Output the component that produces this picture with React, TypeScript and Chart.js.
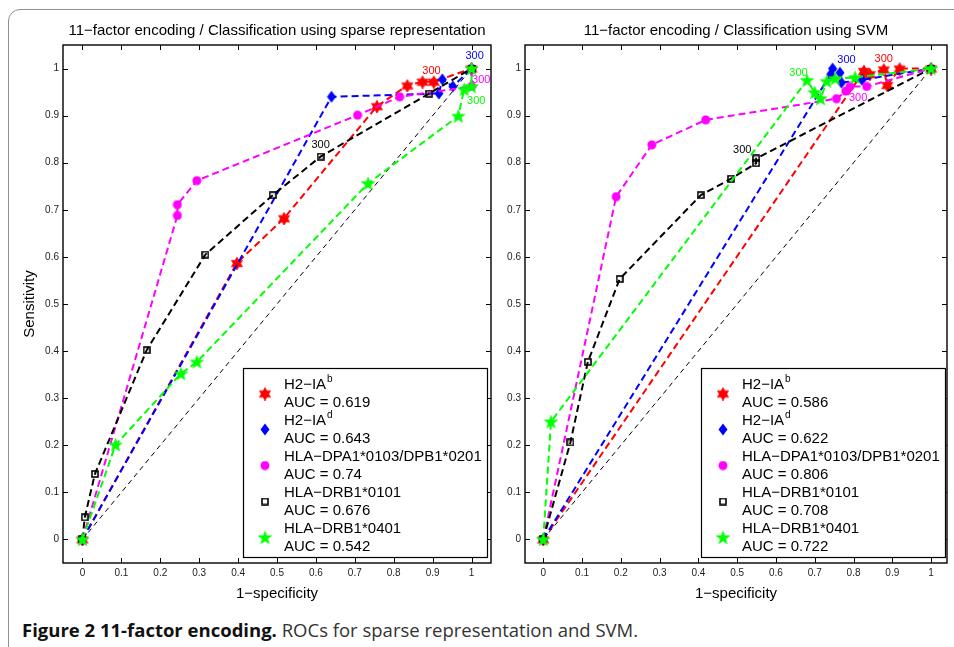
import React, { useEffect, useRef } from "react";
import { Chart, registerables } from "chart.js";
Chart.register(...registerables);

const FONT = '"Liberation Sans", Arial, Helvetica, sans-serif';

const tickValues = [0, 0.1, 0.2, 0.3, 0.4, 0.5, 0.6, 0.7, 0.8, 0.9, 1];
const tickLabels = ["0", "0.1", "0.2", "0.3", "0.4", "0.5", "0.6", "0.7", "0.8", "0.9", "1"];

const seriesNames = ["H2\u2212IA", "H2\u2212IA", "HLA\u2212DPA1*0103/DPB1*0201", "HLA\u2212DRB1*0101", "HLA\u2212DRB1*0401"];
const seriesSup = ["b", "d", "", "", ""];
const seriesColors = ["#ff0000", "#0000ff", "#ff00ff", "#000000", "#00ff00"];
const seriesMarkers = ["hexagram", "diamond", "circle", "square", "pentagram"];

const sparseAUC = ["0.619", "0.643", "0.74", "0.676", "0.542"];
const svmAUC = ["0.586", "0.622", "0.806", "0.708", "0.722"];

const diagX = [0, 1];
const diagY = [0, 1];

// Sparse representation
const spRedX = [0, 0.397, 0.518, 0.757, 0.835, 0.874, 0.903, 1];
const spRedY = [0, 0.587, 0.682, 0.92, 0.964, 0.972, 0.972, 1];
const spBlueX = [0, 0.64, 0.916, 0.925, 0.952, 1];
const spBlueY = [0, 0.94, 0.947, 0.977, 0.962, 1];
const spMagX = [0, 0.244, 0.244, 0.294, 0.707, 0.815, 1, 1];
const spMagY = [0, 0.688, 0.711, 0.762, 0.901, 0.94, 0.962, 1];
const spBlackX = [0, 0.006, 0.032, 0.165, 0.316, 0.489, 0.612, 0.891, 1];
const spBlackY = [0, 0.047, 0.139, 0.402, 0.605, 0.731, 0.813, 0.947, 1];
const spGreenX = [0, 0.085, 0.253, 0.294, 0.734, 0.966, 0.981, 1, 1];
const spGreenY = [0, 0.201, 0.352, 0.377, 0.756, 0.899, 0.956, 0.962, 1];

// SVM
const svRedX = [0, 0.827, 0.842, 0.878, 0.887, 0.919, 1];
const svRedY = [0, 0.995, 0.988, 0.998, 0.965, 1.0, 1];
const svBlueX = [0, 0.741, 0.746, 0.765, 0.769, 0.822, 1];
const svBlueY = [0, 0.988, 1.0, 0.991, 0.97, 0.976, 1];
const svMagX = [0, 0.188, 0.28, 0.419, 0.756, 0.78, 0.791, 0.834, 1];
const svMagY = [0, 0.728, 0.838, 0.891, 0.936, 0.952, 0.962, 0.962, 1];
const svBlackX = [0, 0.07, 0.115, 0.197, 0.406, 0.484, 0.549, 0.549, 1];
const svBlackY = [0, 0.206, 0.377, 0.553, 0.731, 0.766, 0.799, 0.809, 1];
const svGreenX = [0, 0.02, 0.68, 0.7, 0.715, 0.731, 0.753, 0.804, 1];
const svGreenY = [0, 0.25, 0.975, 0.949, 0.936, 0.973, 0.979, 0.981, 1];

// "300" threshold labels: series index, x, y
const spLabelSeries = [0, 1, 2, 3, 4];
const spLabelX = [0.897, 1.008, 1.025, 0.612, 1.012];
const spLabelY = [0.995, 1.027, 0.976, 0.837, 0.931];
const svLabelSeries = [0, 1, 2, 3, 4];
const svLabelX = [0.878, 0.782, 0.812, 0.513, 0.658];
const svLabelY = [1.02, 1.018, 0.938, 0.828, 0.99];
const labelText = "300";

function makeMarker(kind: string, color: string): HTMLCanvasElement {
  const c = document.createElement("canvas");
  let w = 14, h = 14;
  if (kind === "hexagram") { w = 14; h = 14; }
  if (kind === "pentagram") { w = 15; h = 15; }
  if (kind === "diamond") { w = 10; h = 13; }
  if (kind === "circle") { w = 10; h = 10; }
  if (kind === "square") { w = 8; h = 8; }
  c.width = w; c.height = h;
  const g = c.getContext("2d")!;
  const cx = w / 2, cy = h / 2;
  g.fillStyle = color; g.strokeStyle = color;
  if (kind === "hexagram" || kind === "pentagram") {
    const n = kind === "hexagram" ? 6 : 5;
    const R = kind === "hexagram" ? 6.5 : 7;
    const r = kind === "hexagram" ? 3.75 : 2.9;
    g.beginPath();
    for (let i = 0; i < n * 2; i++) {
      const a = -Math.PI / 2 + (i * Math.PI) / n;
      const rr = i % 2 === 0 ? R : r;
      g.lineTo(cx + rr * Math.cos(a), cy + 0.5 + rr * Math.sin(a));
    }
    g.closePath(); g.fill(); g.lineWidth = 0.6; g.stroke();
  } else if (kind === "diamond") {
    g.beginPath();
    g.moveTo(cx, 0.5); g.lineTo(w - 0.5, cy); g.lineTo(cx, h - 0.5); g.lineTo(0.5, cy);
    g.closePath(); g.fill();
  } else if (kind === "circle") {
    g.beginPath(); g.arc(cx, cy, 4.5, 0, Math.PI * 2); g.fill();
  } else {
    g.lineWidth = 1.6; g.strokeRect(1, 1, w - 2, h - 2);
  }
  return c;
}

function pts(xs: number[], ys: number[]) {
  return xs.map((x, i) => ({ x, y: ys[i] }));
}

interface Cfg {
  title: string;
  xs: number[][];
  ys: number[][];
  aucs: string[];
  yTitle: boolean;
  yWidth: number;
  padRight: number;
  xMin: number;
  xMax: number;
  legendRight: number;
  labelSeries: number[];
  labelX: number[];
  labelY: number[];
}

function buildConfig(cfg: Cfg): any {
  const markers = seriesMarkers.map((m, i) => makeMarker(m, seriesColors[i]));
  const datasets: any[] = cfg.xs.map((xs, i) => ({
    label: seriesNames[i],
    data: pts(xs, cfg.ys[i]),
    showLine: true,
    borderColor: seriesColors[i],
    backgroundColor: seriesColors[i],
    borderWidth: 2,
    borderDash: [7, 4],
    pointStyle: markers[i],
    pointRadius: 5,
    tension: 0,
    order: 5 - i,
  }));
  datasets.push({
    label: "diag",
    data: pts(diagX, diagY),
    showLine: true,
    borderColor: "#000",
    borderWidth: 1,
    borderDash: [5, 4],
    pointRadius: 0,
    order: 10,
  });

  const deco = {
    id: "deco",
    afterDatasetsDraw(chart: any) {
      const { ctx, chartArea: a, scales } = chart;
      const sx = scales.x, sy = scales.y;
      ctx.save();
      // threshold labels
      ctx.font = `11px ${FONT}`;
      ctx.textAlign = "center";
      ctx.textBaseline = "middle";
      cfg.labelSeries.forEach((s, i) => {
        ctx.fillStyle = seriesColors[s];
        ctx.fillText(labelText, sx.getPixelForValue(cfg.labelX[i]), sy.getPixelForValue(cfg.labelY[i]));
      });
      // ticks inward
      ctx.strokeStyle = "#000";
      ctx.lineWidth = 1;
      ctx.beginPath();
      tickValues.forEach((v) => {
        const px = Math.round(sx.getPixelForValue(v)) + 0.5;
        ctx.moveTo(px, a.bottom); ctx.lineTo(px, a.bottom - 5);
        ctx.moveTo(px, a.top); ctx.lineTo(px, a.top + 5);
        const py = Math.round(sy.getPixelForValue(v)) + 0.5;
        ctx.moveTo(a.left, py); ctx.lineTo(a.left + 5, py);
        ctx.moveTo(a.right, py); ctx.lineTo(a.right - 5, py);
      });
      ctx.stroke();
      // frame
      ctx.lineWidth = 1.4;
      ctx.strokeRect(a.left, a.top, a.right - a.left, a.bottom - a.top);

      // legend
      const big = `15px ${FONT}`;
      const small = `10px ${FONT}`;
      ctx.font = big;
      let maxW = 0;
      seriesNames.forEach((n, i) => {
        ctx.font = big;
        let w = ctx.measureText(n).width;
        if (seriesSup[i]) { ctx.font = small; w += ctx.measureText(seriesSup[i]).width + 1; }
        ctx.font = big;
        const w2 = ctx.measureText(`AUC = ${cfg.aucs[i]}`).width;
        maxW = Math.max(maxW, w, w2);
      });
      const boxW = Math.round(41 + maxW + 5);
      const boxH = 189;
      const right = Math.round(a.right - cfg.legendRight);
      const bottom = Math.round(a.bottom - 6);
      const left = right - boxW, top = bottom - boxH;
      ctx.fillStyle = "#fff";
      ctx.fillRect(left, top, boxW, boxH);
      ctx.strokeStyle = "#000";
      ctx.lineWidth = 1.2;
      ctx.strokeRect(left + 0.5, top + 0.5, boxW, boxH);
      ctx.textAlign = "left";
      ctx.textBaseline = "middle";
      seriesNames.forEach((n, i) => {
        const y1 = top + 16.5 + i * 36;
        const y2 = y1 + 18;
        const m = markers[i];
        ctx.drawImage(m, left + 22 - m.width / 2, (y1 + y2) / 2 - m.height / 2);
        ctx.fillStyle = "#000";
        ctx.font = big;
        ctx.fillText(n, left + 41, y1);
        if (seriesSup[i]) {
          const w = ctx.measureText(n).width;
          ctx.font = small;
          ctx.fillText(seriesSup[i], left + 41 + w + 1, y1 - 5);
          ctx.font = big;
        }
        ctx.fillText(`AUC = ${cfg.aucs[i]}`, left + 41, y2);
      });
      ctx.restore();
    },
  };

  return {
    type: "scatter",
    data: { datasets },
    plugins: [deco],
    options: {
      animation: false,
      responsive: false,
      events: [],
      layout: { padding: { left: 0, right: cfg.padRight, top: 0, bottom: 0 } },
      plugins: {
        legend: { display: false },
        tooltip: { enabled: false },
        title: {
          display: true,
          fullSize: false,
          text: cfg.title,
          color: "#000",
          font: { family: FONT, size: 15, weight: "normal", lineHeight: 1.2 },
          padding: { top: 22, bottom: 5 },
        },
      },
      scales: {
        x: {
          type: "linear",
          min: cfg.xMin,
          max: cfg.xMax,
          afterBuildTicks: (s: any) => { s.ticks = tickValues.map((v) => ({ value: v })); },
          afterFit: (s: any) => { s.height = 47; },
          grid: { display: false, drawTicks: false },
          border: { display: false },
          ticks: {
            autoSkip: false, maxRotation: 0, padding: 4, color: "#222",
            font: { family: FONT, size: 10 },
            callback: (_v: any, i: number) => tickLabels[i],
          },
          title: {
            display: true, text: "1\u2212specificity", color: "#000",
            font: { family: FONT, size: 15, lineHeight: 1.2 },
            padding: { top: 4, bottom: 7 },
          },
        },
        y: {
          type: "linear",
          min: -0.05,
          max: 1.05,
          afterBuildTicks: (s: any) => { s.ticks = tickValues.map((v) => ({ value: v })); },
          afterFit: (s: any) => { s.width = cfg.yWidth; },
          grid: { display: false, drawTicks: false },
          border: { display: false },
          ticks: {
            autoSkip: false, padding: 4, color: "#222",
            font: { family: FONT, size: 10 },
            callback: (_v: any, i: number) => tickLabels[i],
          },
          title: {
            display: cfg.yTitle, text: "Sensitivity", color: "#000",
            font: { family: FONT, size: 15, lineHeight: 1.2 },
            padding: { top: 21, bottom: 0 },
          },
        },
      },
    },
  };
}

export default function App() {
  const leftRef = useRef<HTMLCanvasElement>(null);
  const rightRef = useRef<HTMLCanvasElement>(null);

  useEffect(() => {
    document.body.style.margin = "0";
    const c1 = new Chart(leftRef.current!, buildConfig({
      title: "11\u2212factor encoding / Classification using sparse representation",
      xs: [spRedX, spBlueX, spMagX, spBlackX, spGreenX],
      ys: [spRedY, spBlueY, spMagY, spBlackY, spGreenY],
      aucs: sparseAUC,
      yTitle: true,
      yWidth: 63,
      padRight: 9,
      xMin: -0.05,
      xMax: 1.05,
      legendRight: 4,
      labelSeries: spLabelSeries,
      labelX: spLabelX,
      labelY: spLabelY,
    }));
    const c2 = new Chart(rightRef.current!, buildConfig({
      title: "11\u2212factor encoding / Classification using SVM",
      xs: [svRedX, svBlueX, svMagX, svBlackX, svGreenX],
      ys: [svRedY, svBlueY, svMagY, svBlackY, svGreenY],
      aucs: svmAUC,
      yTitle: false,
      yWidth: 25,
      padRight: 5,
      xMin: -0.047,
      xMax: 1.041,
      legendRight: 2,
      labelSeries: svLabelSeries,
      labelX: svLabelX,
      labelY: svLabelY,
    }));
    return () => { c1.destroy(); c2.destroy(); };
  }, []);

  return (
    <div style={{ position: "relative", width: 954, height: 647, overflow: "hidden", background: "#fff" }}>
      <div style={{ position: "absolute", left: 8, top: 9, width: 1000, height: 700, border: "1px solid #8f8f8f", borderRadius: 12 }} />
      <canvas ref={leftRef} width={500} height={610} style={{ position: "absolute", left: 0, top: 0 }} />
      <canvas ref={rightRef} width={454} height={610} style={{ position: "absolute", left: 500, top: 0 }} />
      <div style={{ position: "absolute", left: 22, top: 618, fontFamily: '"Open Sans", sans-serif', fontSize: 18.5, color: "#333", whiteSpace: "nowrap", lineHeight: "24px" }}>
        <span style={{ fontWeight: 700, color: "#111" }}>Figure 2 11-factor encoding.</span> ROCs for sparse representation and SVM.
      </div>
    </div>
  );
}
